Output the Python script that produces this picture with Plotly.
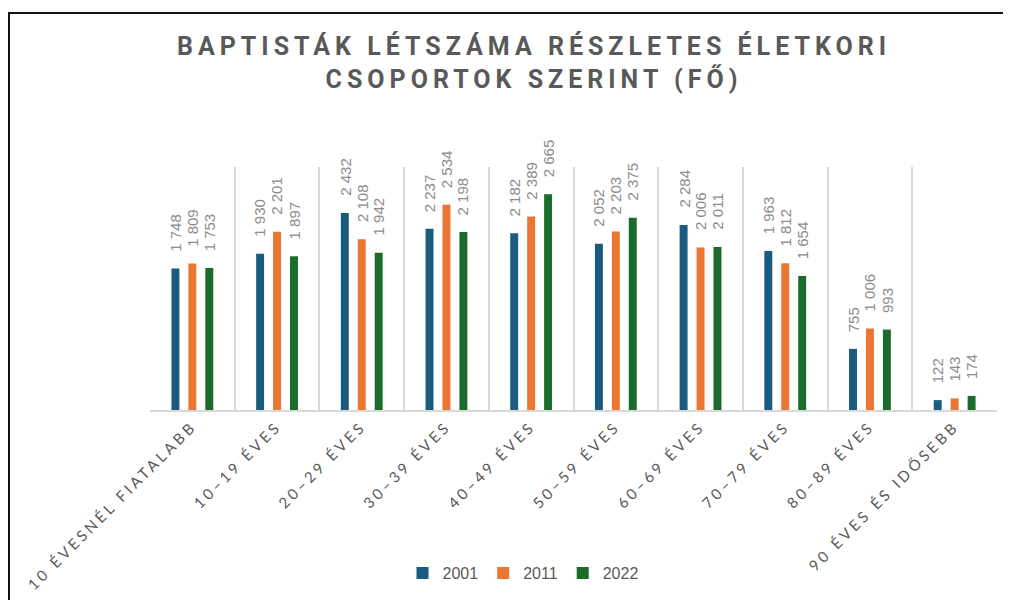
import plotly.graph_objects as go

categories = ["10 ÉVESNÉL FIATALABB", "10–19 ÉVES", "20–29 ÉVES", "30–39 ÉVES", "40–49 ÉVES",
              "50–59 ÉVES", "60–69 ÉVES", "70–79 ÉVES", "80–89 ÉVES", "90 ÉVES ÉS IDŐSEBB"]
series_names = ["2001", "2011", "2022"]
v2001 = [1748, 1930, 2432, 2237, 2182, 2052, 2284, 1963, 755, 122]
v2011 = [1809, 2201, 2108, 2534, 2389, 2203, 2006, 1812, 1006, 143]
v2022 = [1753, 1897, 1942, 2198, 2665, 2375, 2011, 1654, 993, 174]
colors = ["#1a5c80", "#eb7532", "#1b6b2a"]

title_text = "BAPTISTÁK LÉTSZÁMA RÉSZLETES ÉLETKORI<br>CSOPORTOK SZERINT (FŐ)"


def fmt(v):
    return f"{v:,}".replace(",", " ")


# page body has an 8px margin; figure is sized to fit inside the window
W, H = 1003, 592
L, R, T, B = 142, 14, 159, 190
pw, ph = W - L - R, H - T - B


def px2paper_x(px):
    return (px - 8 - L) / pw


def px2paper_y(py):
    return (H - B - (py - 8)) / ph


fig = go.Figure()
annotations = []
all_vals = [v2001, v2011, v2022]
pitch = 17
for i, (name, vals, col) in enumerate(zip(series_names, all_vals, colors)):
    fig.add_trace(go.Bar(
        x=categories, y=vals, name=name,
        marker=dict(color=col, line=dict(width=0)),
        cliponaxis=False,
    ))
    for c, v in zip(categories, vals):
        annotations.append(dict(
            x=c, y=v, xref="x", yref="y", text=fmt(v), showarrow=False,
            textangle=-90, xanchor="center", yanchor="bottom",
            xshift=(i - 1) * pitch, yshift=15,
            font=dict(family="Liberation Sans, Arial", size=15, color="#8c8c8c"),
        ))

fig.update_layout(
    width=W, height=H,
    margin=dict(l=L, r=R, t=T, b=B, autoexpand=False),
    paper_bgcolor="white", plot_bgcolor="white",
    barmode="group", bargap=0.40, bargroupgap=0.53,
    title=dict(text=title_text, x=(534 - 8) / W, xanchor="center", y=1 - 47 / H, yanchor="top",
               font=dict(family="Roboto, DejaVu Sans", size=25, color="#595959", weight="bold")),
    xaxis=dict(type="category", tickson="boundaries", showgrid=True, gridcolor="#d9d9d9",
               gridwidth=1.5, showline=True, linecolor="#d9d9d9", linewidth=1.5,
               ticks="", tickangle=-45,
               tickfont=dict(family="Lato, Open Sans", size=15, color="#595959")),
    yaxis=dict(range=[0, 3000], showgrid=False, showticklabels=False, zeroline=False,
               showline=False, ticks=""),
    legend=dict(orientation="h", x=px2paper_x(523), xanchor="center", y=px2paper_y(573),
                yanchor="middle", font=dict(family="Liberation Sans, Arial", size=16, color="#595959"),
                itemwidth=30, traceorder="normal"),
    annotations=annotations,
    shapes=[dict(type="rect", xref="paper", yref="paper",
                 x0=px2paper_x(9), x1=px2paper_x(1060), y0=px2paper_y(660), y1=px2paper_y(13),
                 line=dict(color="#111111", width=2), fillcolor="rgba(0,0,0,0)", layer="below")],
)

post = """
var gd = document.getElementById('{plot_id}');
gd.querySelectorAll('.xtick text').forEach(function(t){t.style.letterSpacing='3.3px';});
gd.querySelectorAll('.gtitle').forEach(function(t){t.style.letterSpacing='5px';});
"""

fig.write_html("out.html", post_script=post)
